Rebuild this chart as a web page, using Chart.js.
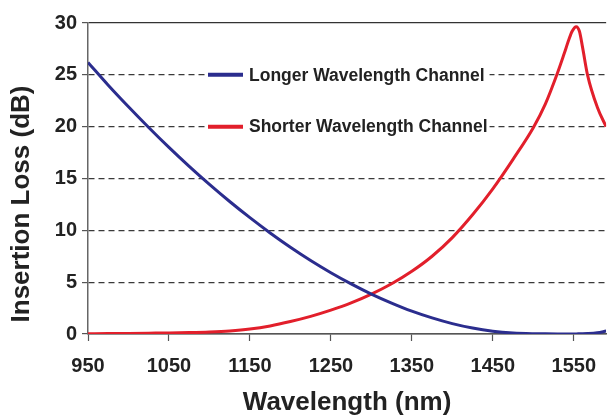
<!DOCTYPE html>
<html>
<head>
<meta charset="utf-8">
<script src="https://cdn.jsdelivr.net/npm/chart.js@4.4.0/dist/chart.umd.min.js"></script>
<style>
	html, body { margin: 0; padding: 0; background: #fff; }
	canvas { display: block; }
</style>
</head>
<body>
<canvas id="plot" width="609" height="419"></canvas>
<script>
// wavelength samples (nm) shared by both channels
const wavelengths = [
	950, 975, 1000, 1025, 1050, 1075, 1100, 1125, 1150, 1175,
	1200, 1225, 1250, 1275, 1300, 1325, 1350, 1375, 1400, 1425,
	1450, 1475, 1500, 1515, 1530, 1538, 1544, 1548, 1553, 1557,
	1561, 1567, 1579, 1590,
];
// insertion loss (dB)
const longerLoss = [
	26.2, 24.0, 21.92, 19.92, 18.0, 16.17, 14.43, 12.78, 11.22, 9.75,
	8.37, 7.09, 5.91, 4.83, 3.85, 2.98, 2.2, 1.55, 1.0, 0.57,
	0.27, 0.1, 0.03, 0.015, 0.01, 0.01, 0.01, 0.01, 0.01, 0.015,
	0.02, 0.04, 0.12, 0.28,
];
const shorterLoss = [
	0.03, 0.04, 0.06, 0.08, 0.1, 0.14, 0.2, 0.3, 0.48, 0.78,
	1.2, 1.7, 2.3, 3.0, 3.85, 4.85, 6.05, 7.5, 9.3, 11.5,
	14.0, 16.85, 19.9, 22.2, 25.2, 27.0, 28.4, 29.2, 29.65, 29.2,
	27.6, 25.0, 21.9, 20.0,
];
const xTicks = [950, 1050, 1150, 1250, 1350, 1450, 1550];
const yTicks = [0, 5, 10, 15, 20, 25, 30];
const seriesNames = ['Longer Wavelength Channel', 'Shorter Wavelength Channel'];
const seriesColors = ['#2b2d8e', '#e21f2b'];

const FONT = "'Liberation Sans', Arial, Helvetica, sans-serif";
const INK = '#222';

const toPoints = (values) => wavelengths.map((x, i) => ({x, y: values[i]}));

// legend sits inside the plot, one row on the 25 dB line, one on the 20 dB line
const inlineLegend = {
	id: 'inlineLegend',
	afterDraw(chart) {
		const {ctx, chartArea, scales: {y}} = chart;
		const left = chartArea.left + 120;
		const rows = [y.getPixelForValue(25), y.getPixelForValue(20)];
		ctx.save();
		ctx.font = `bold 17.5px ${FONT}`;
		const textX = left + 41;
		const widest = Math.max(...seriesNames.map((s) => ctx.measureText(s).width));
		ctx.fillStyle = '#fff';
		ctx.fillRect(left - 1, rows[0] - 11, textX - left + widest + 3, rows[1] - rows[0] + 22);
		seriesNames.forEach((name, i) => {
			ctx.strokeStyle = seriesColors[i];
			ctx.lineWidth = 4;
			ctx.beginPath();
			ctx.moveTo(left, rows[i]);
			ctx.lineTo(left + 35, rows[i]);
			ctx.stroke();
			ctx.fillStyle = INK;
			ctx.textBaseline = 'middle';
			ctx.fillText(name, textX, rows[i] + 1);
		});
		ctx.restore();
	}
};

// y title sits a bit lower than the middle of the axis
const yTitle = {
	id: 'yTitle',
	afterDraw(chart) {
		const {ctx} = chart;
		ctx.save();
		ctx.translate(22, 204);
		ctx.rotate(-Math.PI / 2);
		ctx.font = `bold 26px ${FONT}`;
		ctx.fillStyle = INK;
		ctx.textAlign = 'center';
		ctx.textBaseline = 'middle';
		ctx.fillText('Insertion Loss (dB)', 0, 0);
		ctx.restore();
	}
};

const solidAt = (ctx) => (ctx.tick && (ctx.tick.value === 0 || ctx.tick.value === 30)) ? [] : [6, 4];

new Chart(document.getElementById('plot').getContext('2d'), {
	type: 'line',
	data: {
		datasets: seriesNames.map((label, i) => ({
			label,
			data: toPoints(i === 0 ? longerLoss : shorterLoss),
			borderColor: seriesColors[i],
			borderWidth: 3,
			pointRadius: 0,
			cubicInterpolationMode: 'monotone',
			fill: false,
		})),
	},
	options: {
		responsive: false,
		animation: false,
		layout: {padding: {top: 23, right: 0, bottom: 0, left: 0}},
		plugins: {
			legend: {display: false},
			tooltip: {enabled: false},
		},
		scales: {
			x: {
				type: 'linear',
				min: 950,
				max: 1590,
				afterBuildTicks: (scale) => { scale.ticks = xTicks.map((value) => ({value})); },
				afterFit: (scale) => { scale.height = 85; },
				grid: {drawOnChartArea: false, tickLength: 7, tickColor: '#555', tickWidth: 1.2},
				border: {display: true, color: '#555', width: 1.5},
				ticks: {
					color: INK,
					padding: 13,
					maxRotation: 0,
					callback: (v) => String(v),
					font: {family: FONT, size: 20, weight: 'bold'},
				},
				title: {
					display: true,
					text: 'Wavelength (nm)',
					color: INK,
					padding: {top: 0, bottom: 1},
					font: {family: FONT, size: 26, weight: 'bold'},
				},
			},
			y: {
				type: 'linear',
				min: 0,
				max: 30,
				afterBuildTicks: (scale) => { scale.ticks = yTicks.map((value) => ({value})); },
				afterFit: (scale) => { scale.width = 88; },
				grid: {
					color: (ctx) => ctx.tick && ctx.tick.value === 30 ? '#333' : '#3a3a3a',
					lineWidth: 1.2,
					tickLength: 6,
					tickColor: '#555',
				},
				border: {display: true, color: '#666', width: 1.5, dash: solidAt},
				ticks: {
					color: INK,
					padding: 5,
					callback: (v) => String(v),
					font: {family: FONT, size: 20, weight: 'bold'},
				},
			},
		},
	},
	plugins: [inlineLegend, yTitle],
});
</script>
</body>
</html>
